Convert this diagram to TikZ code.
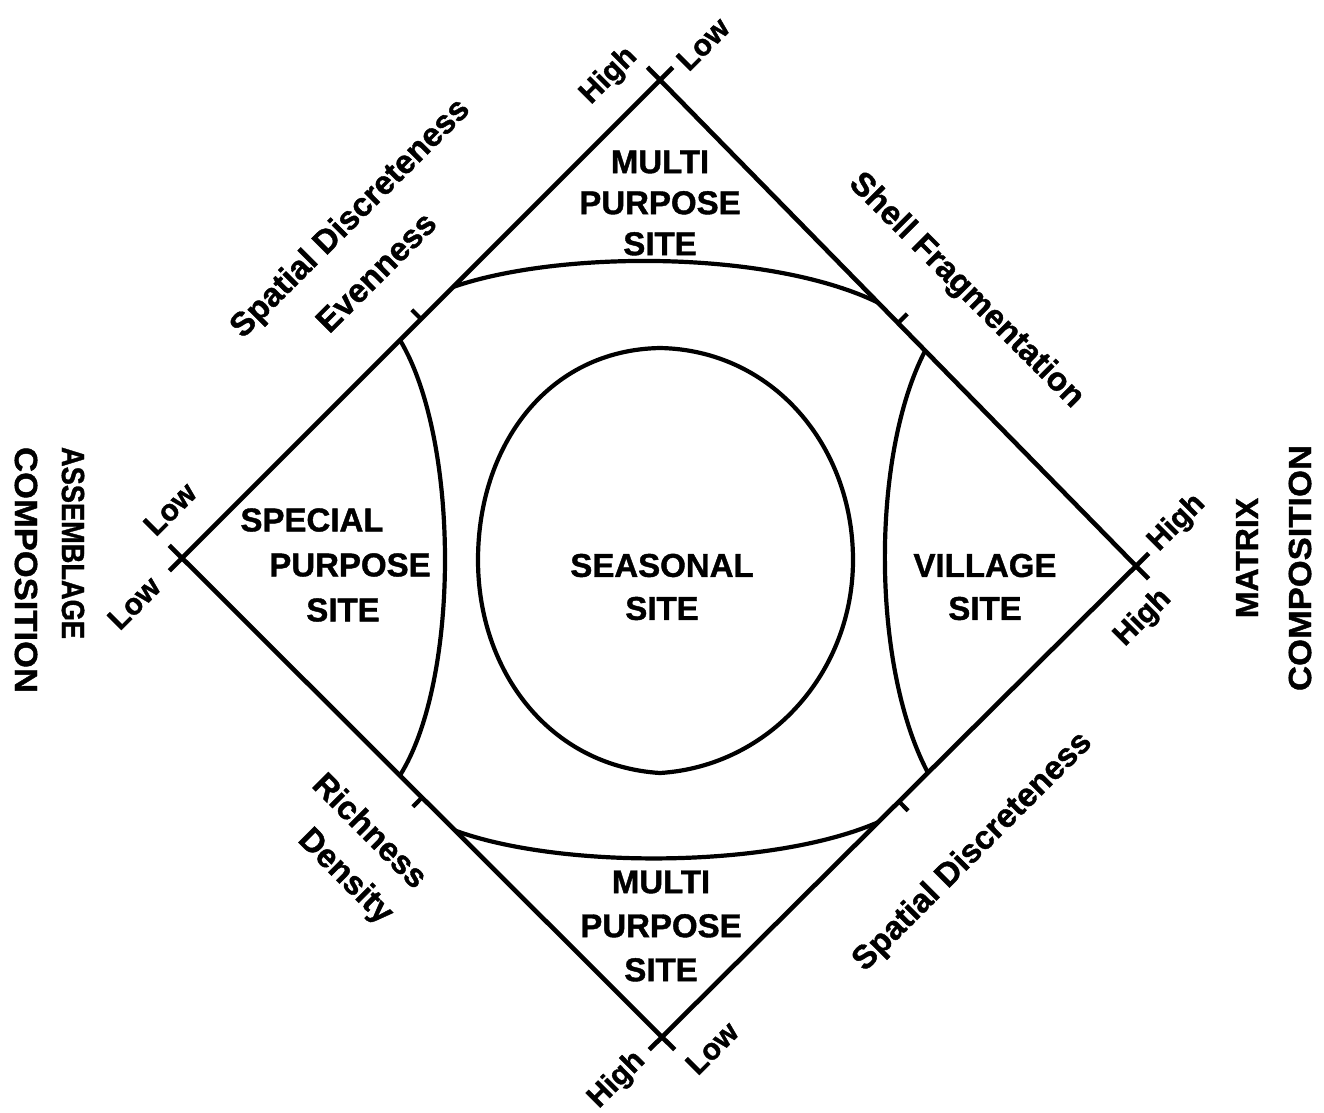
\documentclass[tikz,border=0pt]{standalone}
\usepackage{fontspec}
\setmainfont{Liberation Sans}[BoldFeatures={FakeBold=1.2}]
\usetikzlibrary{calc}
\begin{document}
\begin{tikzpicture}[x=1pt,y=-1pt,
  edge/.style={line width=4.6pt},
  bound/.style={line width=4.2pt},
  tickmark/.style={line width=4.2pt},
  sitelab/.style={font=\fontsize{33}{41}\selectfont\bfseries, inner sep=0pt, align=center},
  axislab/.style={font=\fontsize{33}{40}\selectfont\bfseries, inner sep=0pt},
  vlab/.style={font=\fontsize{30}{36}\selectfont\bfseries, inner sep=0pt, rotate=45},
  sidelab/.style={font=\fontsize{32}{38}\selectfont\bfseries, inner sep=0pt}
]
\fill[white] (0,0) rectangle (1324,1112);
\useasboundingbox (0,0) rectangle (1324,1112);

% vertices of the diamond
\coordinate (T) at (660,80);
\coordinate (R) at (1136,566);
\coordinate (B) at (662,1037);
\coordinate (L) at (182,558);

% edges, each extended a little beyond both vertices
\draw[edge] ($(L)!-18pt!(T)$) -- ($(T)!-18pt!(L)$);
\draw[edge] ($(T)!-18pt!(R)$) -- ($(R)!-18pt!(T)$);
\draw[edge] ($(R)!-18pt!(B)$) -- ($(B)!-18pt!(R)$);
\draw[edge] ($(B)!-18pt!(L)$) -- ($(L)!-18pt!(B)$);

% mid ticks
\coordinate (m1) at ($(L)!0.5!(T)$);
\coordinate (m2) at ($(T)!0.5!(R)$);
\coordinate (m3) at ($(R)!0.5!(B)$);
\coordinate (m4) at ($(B)!0.5!(L)$);
\draw[tickmark] (m1) -- ($(m1)!13pt!90:(T)$);
\draw[tickmark] (m2) -- ($(m2)!13pt!90:(R)$);
\draw[tickmark] (m3) -- ($(m3)!13pt!90:(B)$);
\draw[tickmark] (m4) -- ($(m4)!13pt!90:(L)$);

% boundary curves
\coordinate (c1a) at ($(L)!0.567!(T)$);
\coordinate (c1b) at ($(T)!0.458!(R)$);
\draw[bound] (c1a) .. controls (560,250) and (770,250) .. (c1b);

\coordinate (c2a) at ($(L)!0.456!(T)$);
\coordinate (c2b) at ($(L)!0.454!(B)$);
\draw[bound] (c2a) .. controls (460,440) and (460,680) .. (c2b);

\coordinate (c3a) at ($(T)!0.557!(R)$);
\coordinate (c3b) at ($(B)!0.561!(R)$);
\draw[bound] (c3a) .. controls (871,455) and (871,665) .. (c3b);

\coordinate (c4a) at ($(L)!0.569!(B)$);
\coordinate (c4b) at ($(B)!0.456!(R)$);
\draw[bound] (c4a) .. controls (560,869) and (770,869) .. (c4b);

% seasonal site region
\draw[bound] (660,348) .. controls (772,350) and (853,445) .. (853,560)
  .. controls (853,672) and (770,766) .. (660,773)
  .. controls (550,766) and (478,672) .. (478,560)
  .. controls (478,445) and (548,350) .. cycle;

% site labels
\node[sitelab] (mps1) at (660,203) {MULTI\\PURPOSE\\SITE};
\node[sitelab, font=\fontsize{33}{44}\selectfont\bfseries] (mps2) at (661,926) {MULTI\\PURPOSE\\SITE};
\node[sitelab, font=\fontsize{33}{43}\selectfont\bfseries] (ssn) at (662,587) {SEASONAL\\SITE};
\node[sitelab, font=\fontsize{33}{43}\selectfont\bfseries] (vil) at (985,587) {VILLAGE\\SITE};
\node[sitelab] (sp1) at (312,520) {SPECIAL};
\node[sitelab] (sp2) at (350,565) {PURPOSE};
\node[sitelab] (sp3) at (343,610) {SITE};

% axis labels along edges
\node[axislab, rotate=45] (sd1) at (351,219) {Spatial Discreteness};
\node[axislab, rotate=45] (ev) at (376,272) {Evenness};
\node[axislab, rotate=-45] (sf) at (966,291) {Shell Fragmentation};
\node[axislab, rotate=-45] (ri) at (371,830) {Richness};
\node[axislab, rotate=-45] (de) at (345,877) {Density};
\node[axislab, rotate=45] (sd2) at (973,852) {Spatial Discreteness};

% vertex labels
\node[vlab] (hT) at (609,76) {High};
\node[vlab] (lT) at (703,44) {Low};
\node[vlab] (lL1) at (170,509) {Low};
\node[vlab] (lL2) at (134,603) {Low};
\node[vlab] (hR1) at (1177,523) {High};
\node[vlab] (hR2) at (1143,618) {High};
\node[vlab] (hB) at (617,1080) {High};
\node[vlab] (lB) at (712,1048) {Low};

% side titles
\node[sidelab, rotate=-90] (asm) at (73,543) {\scalebox{0.85}[1]{ASSEMBLAGE}};
\node[sidelab, rotate=-90] (cmpL) at (26,570) {\scalebox{1.08}[1]{COMPOSITION}};
\node[sidelab, rotate=90] (mat) at (1247,558) {MATRIX};
\node[sidelab, rotate=90] (cmpR) at (1300,568) {\scalebox{1.08}[1]{COMPOSITION}};
\end{tikzpicture}
\end{document}
